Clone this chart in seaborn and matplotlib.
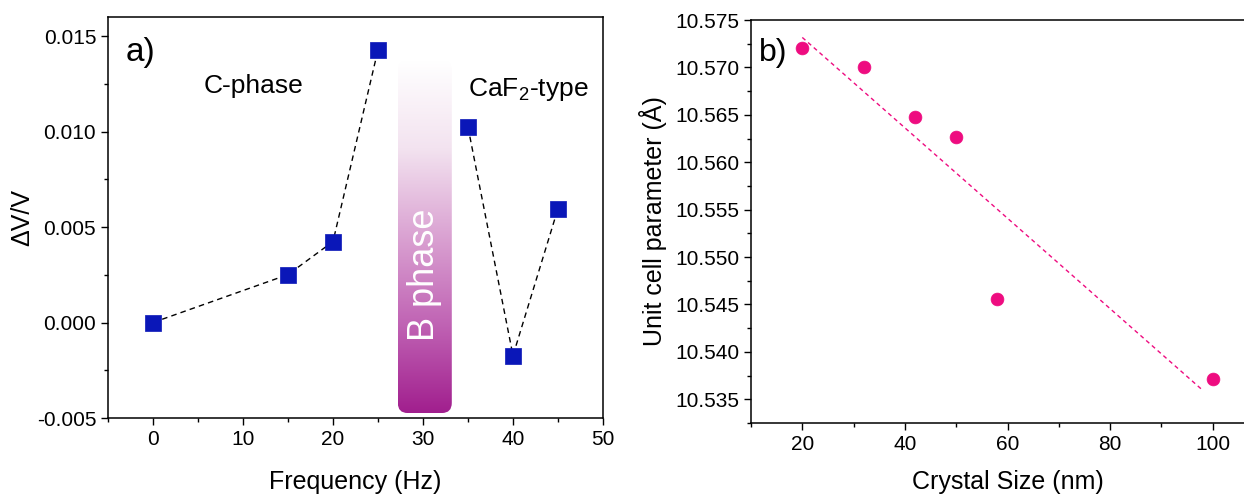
import numpy as np
import pandas as pd
import matplotlib
matplotlib.use("Agg")
import matplotlib.pyplot as plt
import seaborn as sns
from matplotlib.colors import LinearSegmentedColormap
from matplotlib.patches import FancyBboxPatch
from matplotlib.ticker import MultipleLocator

# ---------------- data ----------------
freq_hz = [0, 15, 20, 25, 35, 40, 45]
delta_v = [0.0000, 0.00251, 0.00424, 0.01428, 0.01023, -0.00173, 0.00597]
c_phase_idx = [0, 1, 2, 3]
caf2_idx = [4, 5, 6]
b_phase_range = [27.2, 33.2]

crystal_size = [20, 32, 42, 50, 58, 100]
cell_param = [10.5720, 10.5700, 10.5648, 10.5627, 10.5456, 10.5371]
fit_range = [20, 98]

sns.set_theme(style="ticks")
plt.rcParams["font.family"] = ["Liberation Sans", "DejaVu Sans"]
plt.rcParams["mathtext.fontset"] = "custom"
plt.rcParams["mathtext.rm"] = "Liberation Sans"
plt.rcParams["mathtext.it"] = "Liberation Sans:italic"
plt.rcParams["text.color"] = "black"
plt.rcParams["axes.labelcolor"] = "black"

fig = plt.figure(figsize=(12.44, 4.96), dpi=100)
ax1 = fig.add_axes([108/1244, 1-418/496, 495/1244, 401/496])
ax2 = fig.add_axes([751/1244, 1-423/496, 513/1244, 403/496])

blue = "#0a17b8"
pink = "#ee0c80"

# ---------------- panel a ----------------
dfa = pd.DataFrame({"f": freq_hz, "dv": delta_v})
seg1 = dfa.iloc[c_phase_idx]
seg2 = dfa.iloc[caf2_idx]
for seg in (seg1, seg2):
    sns.lineplot(data=seg, x="f", y="dv", ax=ax1, color="black", lw=1.0,
                 linestyle=(0, (4, 3)), zorder=2, sort=False)
sns.scatterplot(data=dfa, x="f", y="dv", ax=ax1, marker="s", s=120,
                color=blue, edgecolor=blue, linewidth=0.5, zorder=3)

ax1.set_xlim(-5, 50)
ax1.set_ylim(-0.005, 0.016)

# gradient B-phase bar
y_bot, y_top = -0.00474, 0.01374
cmap = LinearSegmentedColormap.from_list(
    "bph", ["#a11f8e", "#c063b4", "#daa2d2", "#f3e3f0", "#ffffff"])
grad = np.linspace(0, 1, 256).reshape(-1, 1)
im = ax1.imshow(grad, extent=[b_phase_range[0], b_phase_range[1], y_bot, y_top],
                origin="lower", aspect="auto", cmap=cmap, zorder=1)
clip = FancyBboxPatch((b_phase_range[0], y_bot), b_phase_range[1]-b_phase_range[0],
                      y_top - y_bot, boxstyle="round,pad=0,rounding_size=1.1",
                      mutation_aspect=0.00048, transform=ax1.transData)
im.set_clip_path(clip)
ax1.text(np.mean(b_phase_range), 0.0025, "B phase", rotation=90, color="white",
         fontsize=26, ha="center", va="center", zorder=4)

ax1.text(11.2, 0.0124, "C-phase", fontsize=19, ha="center", va="center")
ax1.text(41.7, 0.0122, "CaF$_2$-type", fontsize=19, ha="center", va="center")
ax1.text(0.035, 0.95, "a)", transform=ax1.transAxes, fontsize=24, ha="left", va="top")

ax1.xaxis.set_major_locator(MultipleLocator(10))
ax1.xaxis.set_minor_locator(MultipleLocator(5))
ax1.yaxis.set_major_locator(MultipleLocator(0.005))
ax1.yaxis.set_minor_locator(MultipleLocator(0.0025))
ax1.yaxis.set_major_formatter(matplotlib.ticker.FormatStrFormatter("%.3f"))
ax1.set_xlabel("Frequency (Hz)", fontsize=18, labelpad=15)
ax1.set_ylabel("ΔV/V", fontsize=18, labelpad=2)

# ---------------- panel b ----------------
dfb = pd.DataFrame({"size": crystal_size, "a": cell_param})
coef = np.polyfit(crystal_size, cell_param, 1)
dfit = pd.DataFrame({"size": fit_range, "a": np.polyval(coef, fit_range)})
sns.lineplot(data=dfit, x="size", y="a", ax=ax2, color=pink, lw=1.0,
             linestyle=(0, (3, 2.5)), zorder=2)
sns.scatterplot(data=dfb, x="size", y="a", ax=ax2, s=85, color=pink,
                edgecolor=pink, linewidth=0.5, zorder=3)
ax2.set_xlim(10, 110)
ax2.set_ylim(10.5325, 10.575)
ax2.xaxis.set_major_locator(MultipleLocator(20))
ax2.xaxis.set_minor_locator(MultipleLocator(10))
ax2.yaxis.set_major_locator(MultipleLocator(0.005))
ax2.yaxis.set_minor_locator(MultipleLocator(0.0025))
ax2.yaxis.set_major_formatter(matplotlib.ticker.FormatStrFormatter("%.3f"))
ax2.text(0.015, 0.955, "b)", transform=ax2.transAxes, fontsize=23, ha="left", va="top")
ax2.set_xlabel("Crystal Size (nm)", fontsize=18, labelpad=12)
ax2.set_ylabel("Unit cell parameter (Å)", fontsize=18, labelpad=6)

for ax in (ax1, ax2):
    for sp in ax.spines.values():
        sp.set_visible(True)
        sp.set_linewidth(1.1)
        sp.set_color("black")
    ax.tick_params(which="major", direction="out", length=5, width=1.0,
                   labelsize=15, colors="black", top=False, right=False)
    ax.tick_params(which="minor", direction="out", length=3, width=1.0,
                   colors="black", top=False, right=False)
    ax.grid(False)

fig.savefig("out.png", dpi=100)
